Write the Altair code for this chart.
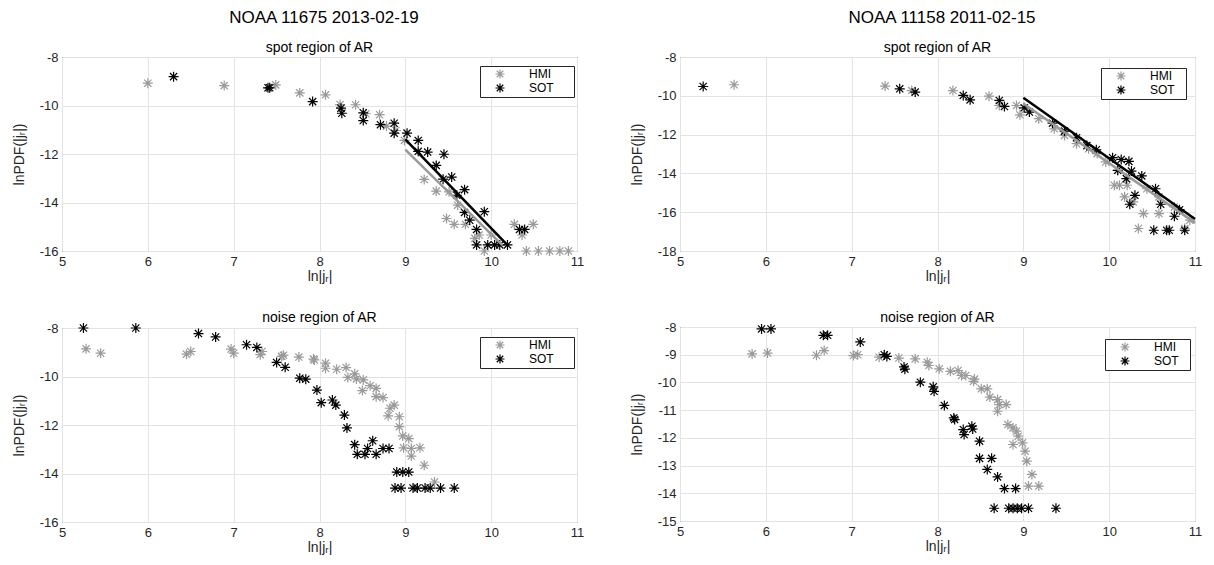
import altair as alt
import pandas as pd

FONT = "Liberation Sans"
GRAY = "#9a9a9a"
BLACK = "#000000"
AST = "M-1,0L1,0M0,-1L0,1M-0.72,-0.72L0.72,0.72M-0.72,0.72L0.72,-0.72"

# ---------------- data ----------------
# Top-left: NOAA 11675, spot region
tl_hmi_x = [6.0, 6.89, 7.49, 7.77, 8.07, 8.24, 8.42, 8.54, 8.70, 8.78, 8.89, 8.99, 9.22, 9.36, 9.48, 9.57,
            9.51, 9.61, 9.70, 9.81, 9.86, 9.92, 10.0, 10.27, 10.36, 10.49, 10.41, 10.55, 10.68, 10.80, 10.9]
tl_hmi_y = [-9.08, -9.18, -9.15, -9.48, -9.56, -9.96, -9.97, -10.34, -10.38, -10.85, -11.03, -11.44, -13.05, -13.53,
            -14.66, -14.90, -13.56, -14.11, -14.90, -15.48, -15.34, -16.0, -15.34, -14.90, -15.34, -14.90, -16.0,
            -16.0, -16.0, -16.0, -16.0]
tl_sot_x = [6.30, 7.40, 7.42, 7.92, 8.25, 8.26, 8.51, 8.51, 8.71, 8.87, 8.87, 9.02, 9.15, 9.15, 9.26, 9.45, 9.36,
            9.44, 9.54, 9.60, 9.69, 9.69, 9.75, 9.92, 9.83, 9.83, 9.96, 10.04, 10.10, 10.19, 10.33, 10.39]
tl_sot_y = [-8.81, -9.27, -9.27, -9.84, -10.11, -10.32, -10.30, -10.62, -10.79, -10.73, -11.14, -11.14, -11.44,
            -11.89, -11.92, -12.01, -12.47, -13.04, -12.95, -13.70, -13.47, -14.41, -14.73, -14.38, -15.11,
            -15.75, -15.75, -15.75, -15.75, -15.75, -15.11, -15.11]
tl_fit_hmi_x = [9.0, 10.13]
tl_fit_hmi_y = [-11.82, -15.76]
tl_fit_sot_x = [9.0, 10.19]
tl_fit_sot_y = [-11.40, -15.76]

# Top-right: NOAA 11158, spot region
tr_hmi_x = [5.63, 7.39, 7.70, 8.18, 8.60, 8.72, 8.92, 8.96, 9.18, 9.36, 9.48, 9.62, 9.76, 9.86, 9.96, 10.10,
            10.06, 10.12, 10.21, 10.18, 10.28, 10.40, 10.34, 10.58, 10.44, 10.58, 10.88, 10.76, 10.94]
tr_hmi_y = [-9.43, -9.50, -9.73, -9.73, -10.02, -10.50, -10.50, -10.98, -11.18, -11.70, -12.04, -12.47, -12.73,
            -12.98, -13.41, -13.84, -14.61, -14.61, -14.61, -15.21, -15.47, -16.07, -16.84, -16.07, -14.79,
            -15.21, -16.84, -15.73, -16.41]
tr_sot_x = [5.27, 7.56, 7.74, 8.30, 8.38, 8.72, 8.78, 9.01, 9.07, 9.34, 9.48, 9.62, 9.74, 9.85, 10.04, 10.14,
            10.23, 10.10, 10.20, 10.26, 10.38, 10.30, 10.24, 10.54, 10.60, 10.76, 10.52, 10.67, 10.70, 10.88, 10.82]
tr_sot_y = [-9.52, -9.64, -9.81, -9.98, -10.21, -10.24, -10.55, -10.62, -10.84, -11.41, -11.82, -12.16, -12.56,
            -12.78, -13.19, -13.28, -13.38, -13.84, -14.27, -13.88, -14.13, -15.13, -15.59, -14.79, -15.59,
            -16.21, -16.93, -16.93, -16.93, -16.93, -15.87]
tr_fit_hmi_x = [9.0, 11.0]
tr_fit_hmi_y = [-10.40, -16.55]
tr_fit_sot_x = [9.0, 11.0]
tr_fit_sot_y = [-10.10, -16.35]

# Bottom-left: NOAA 11675, noise region
bl_hmi_x = [5.28, 5.45, 6.45, 6.50, 6.97, 7.0, 7.31, 7.33, 7.56, 7.58, 7.76, 7.93, 7.94, 8.07, 8.07, 8.20, 8.31,
            8.33, 8.41, 8.43, 8.51, 8.50, 8.59, 8.66, 8.66, 8.74, 8.82, 8.87, 8.80, 8.93, 8.93, 8.97, 9.04, 8.98,
            9.07, 9.17, 9.07, 9.22, 9.34]
bl_hmi_y = [-8.86, -9.04, -9.08, -8.97, -8.87, -9.04, -9.10, -8.97, -9.17, -9.12, -9.20, -9.28, -9.32, -9.45,
            -9.66, -9.70, -9.63, -10.04, -9.89, -10.10, -10.14, -10.58, -10.38, -10.49, -10.83, -10.87, -11.31,
            -11.18, -11.62, -11.66, -12.07, -12.45, -12.56, -12.94, -12.97, -12.94, -13.28, -13.66, -14.35]
bl_sot_x = [5.25, 5.86, 6.59, 6.79, 7.15, 7.27, 7.50, 7.60, 7.77, 7.84, 7.97, 8.02, 8.15, 8.19, 8.29, 8.32, 8.41,
            8.44, 8.53, 8.56, 8.62, 8.66, 8.74, 8.81, 8.90, 8.97, 9.04, 8.88, 8.95, 9.09, 9.14, 9.23, 9.29, 9.41,
            9.57]
bl_sot_y = [-8.0, -8.0, -8.23, -8.37, -8.69, -8.80, -9.42, -9.62, -10.07, -10.11, -10.56, -11.08, -10.97, -11.18,
            -11.59, -12.12, -12.81, -13.21, -13.21, -12.97, -12.65, -13.21, -12.97, -12.97, -13.94, -13.94,
            -13.94, -14.60, -14.60, -14.60, -14.60, -14.60, -14.60, -14.60, -14.60]

# Bottom-right: NOAA 11158, noise region
br_hmi_x = [5.84, 6.02, 6.59, 6.68, 7.02, 7.07, 7.32, 7.55, 7.74, 7.88, 7.90, 8.02, 8.15, 8.24, 8.28, 8.33, 8.42,
            8.43, 8.51, 8.58, 8.61, 8.70, 8.72, 8.80, 8.70, 8.82, 8.88, 8.88, 8.92, 8.94, 8.99, 9.02, 9.04, 9.10,
            9.06, 9.18]
br_hmi_y = [-8.97, -8.94, -9.02, -8.85, -9.03, -9.0, -9.09, -9.12, -9.15, -9.27, -9.39, -9.51, -9.60, -9.57,
            -9.75, -9.75, -9.96, -9.88, -10.23, -10.23, -10.53, -10.62, -10.80, -10.80, -11.04, -11.52, -11.64,
            -12.24, -11.76, -11.94, -12.18, -12.48, -12.84, -13.32, -13.74, -13.74]
br_sot_x = [5.95, 6.06, 6.67, 6.72, 7.10, 7.38, 7.41, 7.61, 7.62, 7.80, 7.95, 7.96, 8.08, 8.19, 8.20, 8.30, 8.31,
            8.40, 8.41, 8.49, 8.49, 8.63, 8.58, 8.70, 8.78, 8.91, 8.66, 8.83, 8.88, 8.93, 8.98, 9.06, 9.38]
br_sot_y = [-8.07, -8.07, -8.30, -8.30, -8.54, -9.0, -9.06, -9.44, -9.52, -9.99, -10.16, -10.32, -10.83, -11.28,
            -11.34, -11.70, -11.88, -11.58, -11.68, -12.12, -12.74, -12.74, -13.14, -13.41, -13.83, -13.83,
            -14.54, -14.54, -14.54, -14.54, -14.54, -14.54, -14.54]

SOURCES = ["HMI", "SOT"]
X_TICKS = [5, 6, 7, 8, 9, 10, 11]


def points_df(hx, hy, sx, sy):
    return pd.DataFrame({
        "x": hx + sx,
        "y": hy + sy,
        "src": [SOURCES[0]] * len(hx) + [SOURCES[1]] * len(sx),
    })


def panel(df, ydom, yticks, title, fits, lx, ly, pad):
    cs = alt.Scale(domain=SOURCES, range=[GRAY, BLACK])
    xenc = alt.X("x:Q", scale=alt.Scale(domain=[5, 11], nice=False, zero=False),
                 axis=alt.Axis(values=X_TICKS, title="ln|jᵣ|", labelExpr="toString(datum.value)",
                               labelFlush=False, labelOverlap=False, titleFontWeight="normal"))
    yenc = alt.Y("y:Q", scale=alt.Scale(domain=ydom, nice=False, zero=False),
                 axis=alt.Axis(values=yticks, title="lnPDF(|jᵣ|)", labelExpr="toString(datum.value)",
                               labelFlush=False, labelOverlap=False, titleFontWeight="normal"))
    pts = alt.Chart(df).mark_point(shape=AST, filled=False, size=100, strokeWidth=1.2,
                                   opacity=1, clip=False).encode(
        x=xenc, y=yenc,
        color=alt.Color("src:N", scale=cs, legend=alt.Legend(
            title=None, orient="none", legendX=lx, legendY=ly, strokeColor="#262626", fillColor="white",
            padding=2, symbolType=AST, symbolSize=81, symbolStrokeWidth=1.2, symbolOffset=12,
            labelOffset=23, labelFont=FONT, labelFontSize=12, labelColor="#000000", rowPadding=0,
            labelExpr="datum.label + '" + "\u2800" * pad + "'",
            symbolFillColor="transparent")),
    )
    layers = [pts]
    for fx, fy, col in fits:
        ldf = pd.DataFrame({"x": fx, "y": fy})
        layers.append(alt.Chart(ldf).mark_line(strokeWidth=2.5, opacity=1).encode(
            x=xenc, y=yenc, color=alt.value(col)))
    return alt.layer(*layers).properties(
        width=515, height=194,
        title=alt.Title(title, fontSize=14, fontWeight="normal", font=FONT, offset=-4, color="#000000"),
    )


tl = panel(points_df(tl_hmi_x, tl_hmi_y, tl_sot_x, tl_sot_y), [-16, -8], [-16, -14, -12, -10, -8],
           "spot region of AR",
           [(tl_fit_hmi_x, tl_fit_hmi_y, GRAY), (tl_fit_sot_x, tl_fit_sot_y, BLACK)], 418, 9, 2)
tr = panel(points_df(tr_hmi_x, tr_hmi_y, tr_sot_x, tr_sot_y), [-18, -8], [-18, -16, -14, -12, -10, -8],
           "spot region of AR",
           [(tr_fit_hmi_x, tr_fit_hmi_y, GRAY), (tr_fit_sot_x, tr_fit_sot_y, BLACK)], 421, 11, 1)
bl = panel(points_df(bl_hmi_x, bl_hmi_y, bl_sot_x, bl_sot_y), [-16, -8], [-16, -14, -12, -10, -8],
           "noise region of AR", [], 418, 9, 2)
br = panel(points_df(br_hmi_x, br_hmi_y, br_sot_x, br_sot_y), [-15, -8], [-15, -14, -13, -12, -11, -10, -9, -8],
           "noise region of AR", [], 425, 12, 1)

res = dict(x="independent", y="independent", color="independent")


def column(top, bottom, title):
    return alt.vconcat(top, bottom, spacing=26, title=alt.Title(
        title, fontSize=17, fontWeight="normal", font=FONT, anchor="middle", offset=9, dx=26, dy=-5,
        color="#000000"
    )).resolve_scale(**res).resolve_legend(color="independent")


left = column(tl, bl, "NOAA 11675 2013-02-19")
right = column(tr, br, "NOAA 11158 2011-02-15")

chart = alt.hconcat(left, right, spacing=44).resolve_scale(**res).resolve_legend(
    color="independent"
).properties(
    background="white", padding={"left": 3, "top": 0, "right": 0, "bottom": 0}
).configure_view(
    stroke="#262626", strokeWidth=1
).configure_axis(
    labelFont=FONT, labelFontSize=13, labelColor="#262626", titleFont=FONT, titleFontSize=14,
    titleColor="#262626", titleFontWeight="normal", domain=False, ticks=False, labelPadding=4,
    gridColor="#e3e3e3", gridWidth=1
).configure_axisX(titlePadding=1, labelPadding=4).configure_axisY(titlePadding=13)

chart.save("out.html", embed_options={"renderer": "svg", "actions": False})
